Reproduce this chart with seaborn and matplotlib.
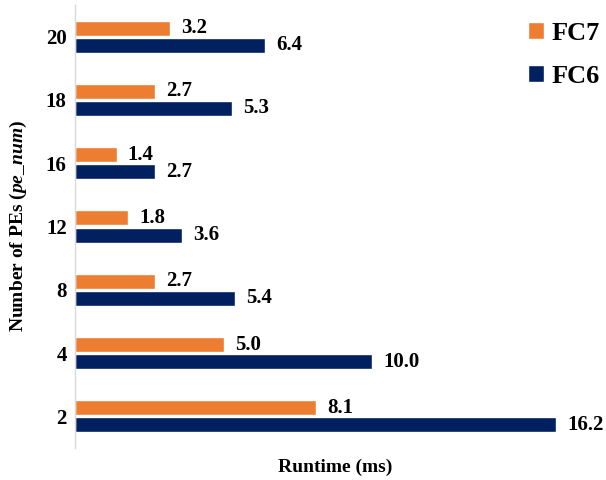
import matplotlib
matplotlib.use("Agg")
import matplotlib.pyplot as plt
import seaborn as sns
import pandas as pd

# data (top to bottom as drawn)
pe_num = ["20", "18", "16", "12", "8", "4", "2"]
fc7_ms = [3.2, 2.7, 1.4, 1.8, 2.7, 5.0, 8.1]
fc6_ms = [6.4, 5.3, 2.7, 3.6, 5.4, 10.0, 16.2]
series = ["FC7", "FC6"]
colors = {"FC7": "#ED7D31", "FC6": "#002060"}

sns.set_theme(style="white")
plt.rcParams['font.family'] = ['Liberation Serif', 'DejaVu Serif']
plt.rcParams['mathtext.fontset'] = 'custom'
plt.rcParams['mathtext.it'] = 'Liberation Serif:italic:bold'
plt.rcParams['mathtext.rm'] = 'Liberation Serif:bold'
for key in ['text.color', 'axes.labelcolor', 'xtick.color', 'ytick.color']:
    plt.rcParams[key] = 'black'

df = pd.DataFrame({
    "pe": pe_num * 2,
    "runtime": fc7_ms + fc6_ms,
    "layer": ["FC7"] * len(pe_num) + ["FC6"] * len(pe_num),
})

fig = plt.figure(figsize=(6.06, 4.8), dpi=100)
ax = fig.add_axes([75 / 606, 32 / 480, 520 / 606, 443 / 480])

sns.barplot(data=df, x="runtime", y="pe", hue="layer", order=pe_num,
            hue_order=series, palette=colors, orient="h",
            width=0.54, gap=0.12, ax=ax, saturation=1)

for cont in ax.containers:
    ax.bar_label(cont, fmt="%.1f", padding=8, fontsize=15, fontweight="bold")

ax.set_xlim(0, 17.5)
ax.set_ylim(6.5, -0.5)
ax.set_xticks([])
ax.tick_params(axis="y", length=0, pad=6, labelsize=15)
for lbl in ax.get_yticklabels():
    lbl.set_fontweight("bold")

for side in ["top", "right", "bottom"]:
    ax.spines[side].set_visible(False)
ax.spines["left"].set_color("#D9D9D9")
ax.spines["left"].set_linewidth(1)

ax.set_xlabel("Runtime (ms)", fontsize=14, fontweight="bold", labelpad=8)
ax.set_ylabel("Number of PEs ($pe\\_num$)", fontsize=14, fontweight="bold", labelpad=12)

leg = ax.legend(loc="upper right", bbox_to_anchor=(1.055, 1.015), frameon=False,
                prop={"weight": "bold", "size": 19}, handlelength=0.6,
                handleheight=0.6, handletextpad=0.3, labelspacing=0.75)

fig.savefig("out.png", dpi=100)
plt.close(fig)
